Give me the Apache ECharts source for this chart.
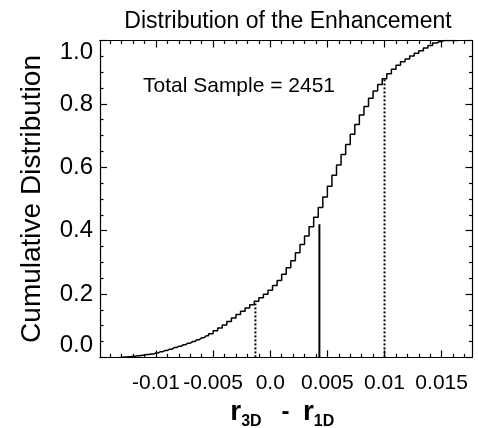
<!DOCTYPE html>
<html>
<head>
<meta charset="utf-8">
<script src="https://cdn.jsdelivr.net/npm/echarts@6/dist/echarts.min.js"></script>
<style>
html, body { margin: 0; padding: 0; background: #fff; }
#main { width: 478px; height: 428px; }
</style>
</head>
<body>
<div id="main"></div>
<script>
// bin centres of the cumulative histogram
var binX = [-0.0132, -0.0128, -0.0124, -0.0120, -0.0116, -0.0112, -0.0108, -0.0104, -0.0100, -0.0096,
    -0.0092, -0.0088, -0.0084, -0.0080, -0.0076, -0.0072, -0.0068, -0.0064, -0.0060, -0.0056,
    -0.0052, -0.0048, -0.0044, -0.0040, -0.0036, -0.0032, -0.0028, -0.0024, -0.0020, -0.0016,
    -0.0012, -0.0008, -0.0004, 0.0000, 0.0004, 0.0008, 0.0012, 0.0016, 0.0020, 0.0024,
    0.0028, 0.0032, 0.0036, 0.0040, 0.0044, 0.0048, 0.0052, 0.0056, 0.0060, 0.0064,
    0.0068, 0.0072, 0.0076, 0.0080, 0.0084, 0.0088, 0.0092, 0.0096, 0.0100, 0.0104,
    0.0108, 0.0112, 0.0116, 0.0120, 0.0124, 0.0128, 0.0132, 0.0136, 0.0140, 0.0144,
    0.0148, 0.0152, 0.0156, 0.0160, 0.0164];
// cumulative fraction
var cumFrac = [0.000, 0.001, 0.002, 0.004, 0.005, 0.007, 0.009, 0.011, 0.014, 0.018,
    0.022, 0.026, 0.031, 0.035, 0.040, 0.045, 0.050, 0.056, 0.062, 0.068,
    0.075, 0.084, 0.093, 0.102, 0.113, 0.124, 0.135, 0.146, 0.156, 0.166,
    0.177, 0.188, 0.199, 0.212, 0.227, 0.243, 0.262, 0.283, 0.305, 0.330,
    0.356, 0.383, 0.412, 0.442, 0.473, 0.506, 0.540, 0.575, 0.607, 0.640,
    0.672, 0.704, 0.735, 0.765, 0.792, 0.818, 0.841, 0.861, 0.879, 0.895,
    0.909, 0.922, 0.933, 0.942, 0.951, 0.960, 0.968, 0.976, 0.984, 0.992,
    0.997, 1.000, 1.000, 1.000, 1.000];

// mean - sigma, mean, mean + sigma and the height each marker reaches
var markX = [-0.0013, 0.0043, 0.0100];
var markTop = [0.177, 0.420, 0.879];

var xTickVals = [-0.01, -0.005, 0, 0.005, 0.01, 0.015];
var xTickNames = ['-0.01', '-0.005', '0.0', '0.005', '0.01', '0.015'];
var xMinorVals = [-0.014, -0.013, -0.012, -0.011, -0.009, -0.008, -0.007, -0.006, -0.004, -0.003,
    -0.002, -0.001, 0.001, 0.002, 0.003, 0.004, 0.006, 0.007, 0.008, 0.009,
    0.011, 0.012, 0.013, 0.014, 0.016, 0.017];
var sampleCount = 2451;

var FONT = 'Liberation Sans';
var XMIN = -0.0149, XMAX = 0.0177;

var myChart = echarts.init(document.getElementById('main'));

var curve = binX.map(function (x, i) { return [x, cumFrac[i]]; });

// one x axis per side / tick size (majors and minors)
function xAxisOf(pos, vals, len, withLabels) {
    return {
        type: 'value',
        position: pos,
        min: XMIN,
        max: XMAX,
        splitLine: { show: false },
        axisLine: { show: true, onZero: false, lineStyle: { color: '#000', width: 1.2 } },
        axisTick: { show: true, inside: true, length: len, customValues: vals,
            lineStyle: { color: '#000', width: 1.2 } },
        axisLabel: withLabels ? {
            show: true, customValues: xTickVals, margin: 15,
            fontFamily: FONT, fontSize: 21, color: '#000',
            formatter: function (v) {
                var k = xTickVals.indexOf(v);
                return k >= 0 ? xTickNames[k] : '';
            }
        } : { show: false }
    };
}

function yAxisOf(pos, withLabels) {
    return {
        type: 'value',
        position: pos,
        min: 0,
        max: 1,
        interval: 0.2,
        splitLine: { show: false },
        axisLine: { show: true, onZero: false, lineStyle: { color: '#000', width: 1.2 } },
        axisTick: { show: true, inside: true, length: 7, lineStyle: { color: '#000', width: 1.2 } },
        minorTick: { show: true, splitNumber: 4, length: 3.5, lineStyle: { color: '#000', width: 1.2 } },
        axisLabel: withLabels ? {
            show: true, margin: 7, fontFamily: FONT, fontSize: 24, color: '#000',
            verticalAlignMinLabel: 'bottom', verticalAlignMaxLabel: 'top',
            formatter: function (v) { return v.toFixed(1); }
        } : { show: false }
    };
}

var xBottom = xAxisOf('bottom', xTickVals, 7, true);
xBottom.name = '{r|r}{s|3D}{m|   -  }{r|r}{s|1D}';
xBottom.nameLocation = 'middle';
xBottom.nameGap = 37;
xBottom.nameTextStyle = {
    padding: [0, 8, 0, 0],
    rich: {
        r: { fontFamily: FONT, fontSize: 28, fontWeight: 'bold', color: '#000', lineHeight: 34 },
        s: { fontFamily: FONT, fontSize: 16, fontWeight: 'bold', color: '#000', verticalAlign: 'bottom' },
        m: { fontFamily: FONT, fontSize: 24, fontWeight: 'bold', color: '#000', lineHeight: 34 }
    }
};

var yLeft = yAxisOf('left', true);
yLeft.name = 'Cumulative Distribution';
yLeft.nameLocation = 'middle';
yLeft.nameGap = 54;
yLeft.nameTextStyle = { fontFamily: FONT, fontSize: 28, color: '#000' };

var marks = markX.map(function (x, i) {
    return {
        type: 'line',
        xAxisIndex: 0,
        yAxisIndex: 0,
        symbol: 'none',
        silent: true,
        data: [[x, 0], [x, markTop[i]]],
        lineStyle: i === 1 ? { color: '#000', width: 2 } : { color: '#000', width: 2, type: [2, 2] }
    };
});

var option = {
    animation: false,
    backgroundColor: '#fff',
    title: [{
        text: 'Distribution of the Enhancement',
        left: 283,
        top: 5,
        textAlign: 'center',
        textStyle: { fontFamily: FONT, fontSize: 23, fontWeight: 'normal', color: '#000' }
    }, {
        text: 'Total Sample = ' + sampleCount,
        left: 138,
        top: 71,
        textStyle: { fontFamily: FONT, fontSize: 21, fontWeight: 'normal', color: '#000' }
    }],
    grid: { left: 100, right: 5.5, top: 40.5, bottom: 70.6, outerBoundsMode: 'none' },
    xAxis: [
        xBottom,
        xAxisOf('top', xTickVals, 7, false),
        xAxisOf('bottom', xMinorVals, 3.5, false),
        xAxisOf('top', xMinorVals, 3.5, false)
    ],
    yAxis: [yLeft, yAxisOf('right', false)],
    series: [{
        type: 'line',
        xAxisIndex: 0,
        yAxisIndex: 0,
        step: 'middle',
        symbol: 'none',
        data: curve,
        lineStyle: { color: '#000', width: 1.5 }
    }].concat(marks)
};

myChart.setOption(option, true);
</script>
</body>
</html>
